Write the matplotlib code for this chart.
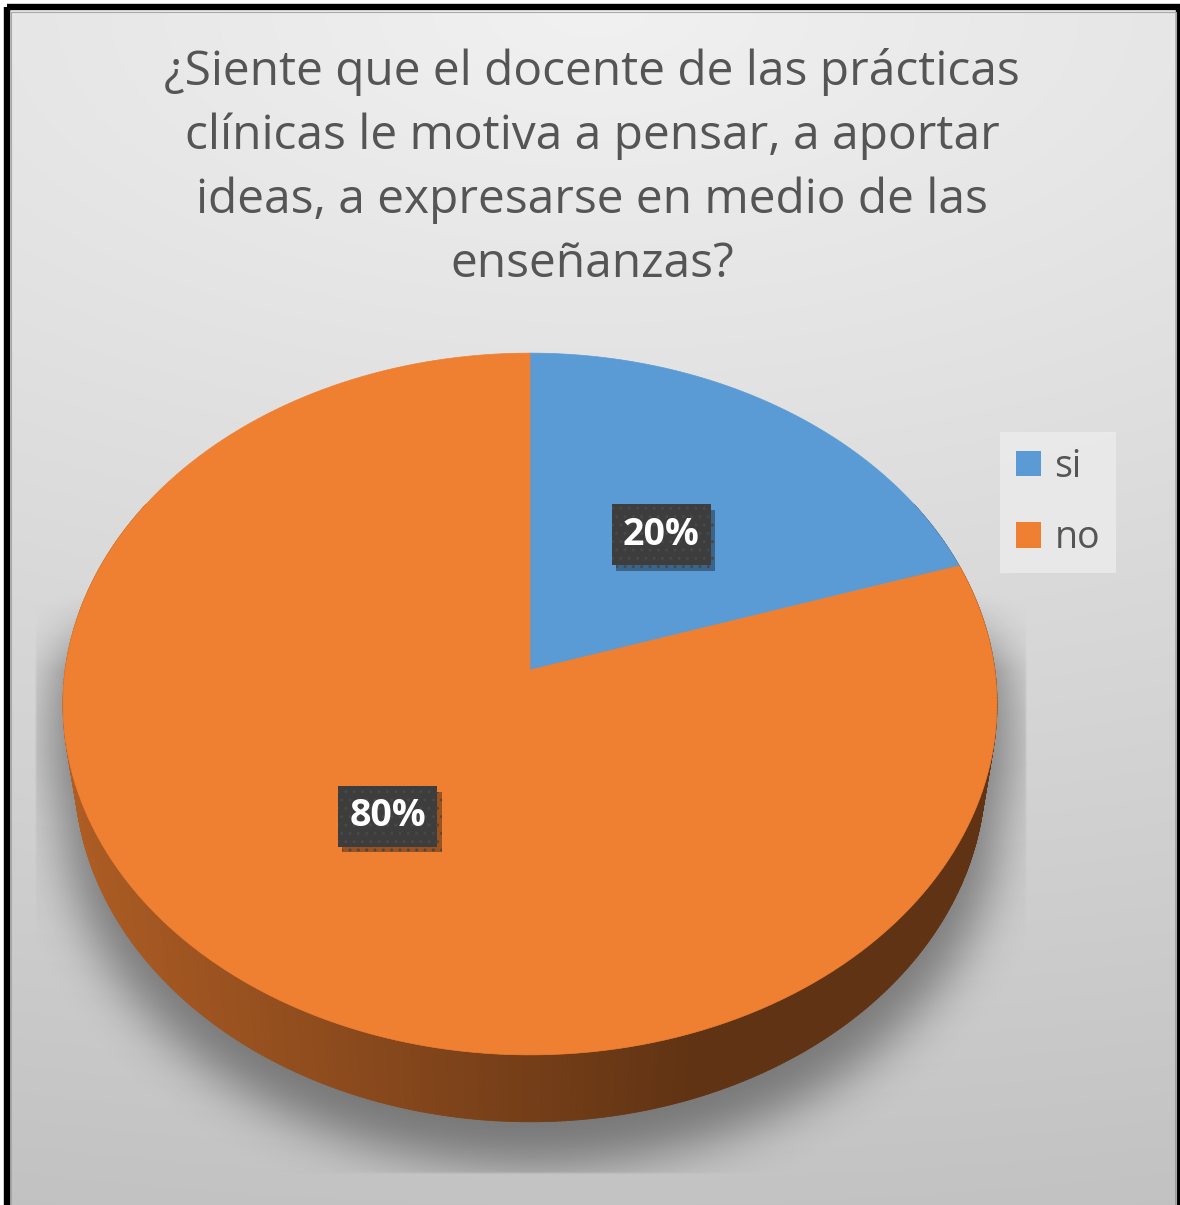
import numpy as np
import matplotlib.pyplot as plt
import matplotlib.patheffects as pe
from matplotlib.patches import Polygon, Rectangle, Patch
from matplotlib.collections import PolyCollection
from matplotlib.path import Path
import matplotlib.colors as mcolors

categories = ["si", "no"]
values = [20, 80]
slice_colors = ["#5b9bd5", "#ef7f31"]
title = ("¿Siente que el docente de las prácticas\n"
         "clínicas le motiva a pensar, a aportar\n"
         "ideas, a expresarse en medio de las\n"
         "enseñanzas?")

W, H = 1180, 1205
plt.rcParams["font.family"] = ["Open Sans", "DejaVu Sans"]
plt.rcParams["hatch.linewidth"] = 1.0

# simple perspective camera looking down on a disc of radius 1
TILT = np.deg2rad(48.4)
DIST = 6.85
FOCAL = 3184.0
CX, CY = 530.0, 670.0
THICK = 0.233


def project(px, py, pz=0.0):
    s, c = np.sin(TILT), np.cos(TILT)
    up = py * s + pz * c
    depth = DIST + py * c - pz * s
    return CX + FOCAL * px / depth, CY - FOCAL * up / depth


def rim(theta_deg, r=1.0, z=0.0):
    """Point on the disc, theta measured clockwise from 12 o'clock."""
    t = np.deg2rad(theta_deg)
    return project(r * np.sin(t), r * np.cos(t), z)


fig = plt.figure(figsize=(W / 100, H / 100), dpi=100, facecolor="white")
ax = fig.add_axes([0, 0, 1, 1])
ax.set_xlim(0, W)
ax.set_ylim(H, 0)
ax.axis("off")

# background gradient of the chart area
yy, xx = np.mgrid[0:H:2, 0:W:2]
dist = np.sqrt(((xx - 590) / 2500.0) ** 2 + (yy / 1205.0) ** 2)
shade = np.clip(241 - 46 * dist, 0, 255)
bg = np.dstack([shade, shade, shade]) / 255.0
ax.imshow(bg, extent=[10, 1177, 1205, 11], aspect="auto", zorder=0,
          interpolation="bilinear")

# slice angles
fractions = np.array(values, dtype=float) / sum(values)
ends = np.cumsum(fractions) * 360.0
starts = ends - fractions * 360.0

# silhouette of the disc (top face + visible side) for the drop shadow
top_x, top_y = rim(np.linspace(0, 360, 361))
band_t = np.linspace(60, 300, 241)
bt_x, bt_y = rim(band_t)
bb_x, bb_y = rim(band_t[::-1], z=-THICK)
gx, gy = np.meshgrid(np.arange(0, W, 3), np.arange(0, H, 3))
pts = np.column_stack([gx.ravel(), gy.ravel()])
ox, oy = 530.0, 700.0
grow_x, grow_y = 1.03, 1.03
shift = 30.0


def grow(x, y):
    return (ox + (np.asarray(x) - ox) * grow_x,
            oy + (np.asarray(y) - oy) * grow_y + shift)


tx, ty = grow(top_x, top_y)
bx, by = grow(np.concatenate([bt_x, bb_x]), np.concatenate([bt_y, bb_y]))
inside = Path(np.column_stack([tx, ty])).contains_points(pts) | \
    Path(np.column_stack([bx, by])).contains_points(pts)
mask = inside.reshape(gx.shape).astype(float)
sig = 8.0
k = np.arange(-30, 31)
kern = np.exp(-0.5 * (k / sig) ** 2)
kern /= kern.sum()
mask = np.apply_along_axis(lambda r: np.convolve(r, kern, mode="same"), 1, mask)
mask = np.apply_along_axis(lambda r: np.convolve(r, kern, mode="same"), 0, mask)
clip = ((gx >= 35) & (gx <= 1025) & (gy <= 1170)).astype(float)
clip *= np.clip((gy - 590) / 80.0, 0, 1)
rgba = np.zeros(mask.shape + (4,))
rgba[..., 3] = 0.4 * mask * clip
ax.imshow(rgba, extent=[0, gx.max() + 3, gy.max() + 3, 0], aspect="auto",
          zorder=1, interpolation="bilinear")

# side wall of the disc, drawn as shaded quads
quads, qcols = [], []
band = np.linspace(60, 300, 481)
for a0, a1 in zip(band[:-1], band[1:]):
    mid = 0.5 * (a0 + a1)
    idx = min(int(np.searchsorted(ends, mid % 360)), len(values) - 1)
    x0, y0 = rim(a0)
    x1, y1 = rim(a1)
    x2, y2 = rim(a1, z=-THICK)
    x3, y3 = rim(a0, z=-THICK)
    quads.append([(x0, y0), (x1, y1), (x2, y2), (x3, y3)])
    t = np.clip((0.5 * (x0 + x1) - 63) / (700 - 63), 0, 1)
    f = 0.73 - 0.33 * t
    base = np.array(mcolors.to_rgb(slice_colors[idx]))
    qcols.append(tuple(base * f))
ax.add_collection(PolyCollection(quads, facecolors=qcols, edgecolors=qcols,
                                 linewidths=0.6, zorder=2))

# top faces of the slices
for i, (a0, a1) in enumerate(zip(starts, ends)):
    arc = np.linspace(a0, a1, 200)
    ax_, ay_ = rim(arc)
    poly = [(CX, CY)] + list(zip(ax_, ay_))
    ax.add_patch(Polygon(poly, closed=True, facecolor=slice_colors[i],
                         edgecolor=slice_colors[i], linewidth=0.5, zorder=3))

# data labels at half radius on the mid angle
for i, (a0, a1) in enumerate(zip(starts, ends)):
    lx, ly = rim(0.5 * (a0 + a1), r=0.5)
    label = f"{values[i] / sum(values):.0%}"
    txt = ax.text(lx, ly, label, ha="center", va="center", fontsize=27,
                  fontweight="bold", color="white", zorder=5,
                  bbox=dict(boxstyle="square,pad=0.3", fc="#3d3d3d",
                            ec="#484848", lw=0, hatch=".."))
    txt.get_bbox_patch().set_path_effects(
        [pe.SimplePatchShadow(offset=(3, -4), shadow_rgbFace="black", alpha=0.35),
         pe.Normal()])

ax.text(592, 168, title, ha="center", va="center", fontsize=34.5,
        color="#555555", linespacing=1.46, zorder=5)

handles = [Patch(facecolor=c, edgecolor="none") for c in slice_colors]
leg = ax.legend(handles, categories, loc="upper left",
                bbox_to_anchor=(1000, 432), bbox_transform=ax.transData,
                borderaxespad=0, fontsize=27, labelcolor="#555555",
                handlelength=0.68, handleheight=0.68, handletextpad=0.35,
                labelspacing=0.9, borderpad=0.42, frameon=True, fancybox=False)
leg.get_frame().set_facecolor("#ebebeb")
leg.get_frame().set_edgecolor("none")
leg.get_frame().set_alpha(0.85)
leg.set_zorder(6)

# outer frame
ax.add_patch(Rectangle((7, 7), 1172, 1215, fill=False, edgecolor="black",
                       linewidth=4.6, zorder=7))
ax.add_patch(Rectangle((10.5, 11.5), 1165, 1210, fill=False,
                       edgecolor="#a8a8a8", linewidth=0.8, zorder=7))

fig.savefig("out.png", dpi=100, facecolor="white")
